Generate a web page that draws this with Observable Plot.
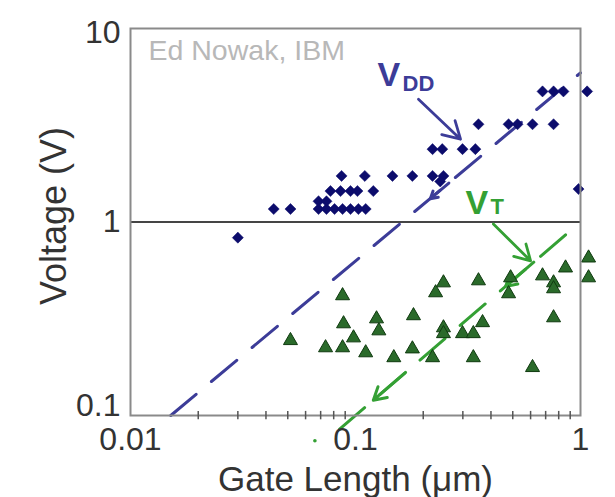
<!DOCTYPE html>
<html><head><meta charset="utf-8">
<script src="https://cdn.jsdelivr.net/npm/d3@7"></script>
<script src="https://cdn.jsdelivr.net/npm/@observablehq/plot@0.6"></script>
<style>body{margin:0;background:#fff}</style>
</head><body><div id="chart"></div>
<script>
// V_DD (supply voltage) points: gate length (µm), voltage (V)
const vddGateLength = [0.030,
  0.0433, 0.0514, 0.0685, 0.0743, 0.0807, 0.0876, 0.095, 0.103, 0.111,
  0.0685, 0.0743,
  0.0774, 0.0858, 0.095, 0.102, 0.120,
  0.0867, 0.110, 0.146, 0.179, 0.220, 0.246, 0.238,
  0.220, 0.243, 0.299, 0.341,
  0.352, 0.479, 0.525, 0.612, 0.759,
  0.678, 0.759, 0.84, 1.07,
  0.98];
const vddVoltage = [0.83,
  1.167, 1.167, 1.167, 1.167, 1.167, 1.167, 1.167, 1.167, 1.167,
  1.28, 1.28,
  1.445, 1.445, 1.445, 1.445, 1.445,
  1.73, 1.73, 1.73, 1.73, 1.73, 1.73, 1.62,
  2.38, 2.38, 2.38, 2.38,
  3.2, 3.2, 3.2, 3.2, 3.2,
  4.73, 4.73, 4.73, 4.73,
  1.48];
// V_T (threshold voltage) points
const vtGateLength = [0.0876, 0.0514, 0.0885, 0.098, 0.0736, 0.0876, 0.111, 0.124, 0.127, 0.181,
  0.148, 0.179, 0.246, 0.227, 0.352, 0.489, 0.479, 0.678, 0.759, 0.759,
  0.858, 0.759, 0.246, 0.246, 0.299, 0.334, 0.367, 0.220, 0.334, 0.612,
  1.086, 1.086];
const vtVoltage = [0.416, 0.244, 0.298, 0.252, 0.224, 0.224, 0.211, 0.316, 0.274, 0.328,
  0.199, 0.221, 0.485, 0.431, 0.497, 0.515, 0.426, 0.527, 0.485, 0.452,
  0.579, 0.320, 0.284, 0.265, 0.265, 0.265, 0.302, 0.199, 0.199, 0.177,
  0.652, 0.515];
// Scaling trend lines
const vddTrendL = [0.0151, 1.0];
const vddTrendV = [0.1, 5.9];
const vtTrendL = [0.085, 1.0];
const vtTrendV = [0.085, 1.0];
const vtTrendDotL = [0.066];
const vtTrendDotV = [0.074];
// Arrowheads along the trend lines (pointing to smaller devices)
const trendArrowSeries = ["vdd", "vt", "vt"];
const trendArrowL1 = [0.26, 0.62, 0.167];
const trendArrowV1 = [1.59, 0.62, 0.167];
const trendArrowL2 = [0.215, 0.465, 0.12];
const trendArrowV2 = [1.32, 0.465, 0.12];
// Label callout arrows
const calloutSeries = ["vdd", "vt"];
const calloutL1 = [0.1905, 0.41];
const calloutV1 = [4.31, 0.976];
const calloutL2 = [0.293, 0.60];
const calloutV2 = [2.68, 0.63];
// Labels
const labelMain = ["V", "V"];
const labelSub = ["DD", "T"];
const labelSeries = ["vdd", "vt"];
const labelMainL = [0.1253, 0.308];
const labelMainV = [5.02, 1.10];
const labelSubL = [0.1618, 0.398];
const labelSubV = [4.73, 1.10];
// Axis ticks
const xTicks = [0.01, 0.1, 1];
const yTicks = [0.1, 1, 10];
const xMinorTicks = [0.02, 0.03, 0.04, 0.05, 0.06, 0.07, 0.08, 0.09, 0.2, 0.3, 0.4, 0.5, 0.6, 0.7, 0.8, 0.9];
const referenceLine = [1];

const colors = {vdd: "#3c3c98", vt: "#34a034"};
const vdd = vddGateLength.map((x, i) => ({x, y: vddVoltage[i]}));
const vt = vtGateLength.map((x, i) => ({x, y: vtVoltage[i]}));
const vddTrend = vddTrendL.map((x, i) => ({x, y: vddTrendV[i]}));
const vtTrend = vtTrendL.map((x, i) => ({x, y: vtTrendV[i]}));
const vtTrendDot = vtTrendDotL.map((x, i) => ({x, y: vtTrendDotV[i]}));
const trendArrows = trendArrowSeries.map((s, i) => ({s, x1: trendArrowL1[i], y1: trendArrowV1[i], x2: trendArrowL2[i], y2: trendArrowV2[i]}));
const callouts = calloutSeries.map((s, i) => ({s, x1: calloutL1[i], y1: calloutV1[i], x2: calloutL2[i], y2: calloutV2[i]}));
const labels = labelSeries.map((s, i) => ({s, main: labelMain[i], sub: labelSub[i], mx: labelMainL[i], my: labelMainV[i], sx: labelSubL[i], sy: labelSubV[i]}));

const font = "Liberation Sans, Arial, Helvetica, sans-serif";
const tickFont = 32;

const chart = Plot.plot({
  width: 615,
  height: 497,
  marginLeft: 130,
  marginRight: 35,
  marginTop: 28,
  marginBottom: 82,
  x: {type: "log", domain: [0.01, 1]},
  y: {type: "log", domain: [0.1, 10]},
  style: {fontFamily: font, background: "#fff", color: "#333", overflow: "visible"},
  marks: [
    Plot.text(["Ed Nowak, IBM"], {frameAnchor: "top-left", dx: 18, dy: 11, textAnchor: "start", lineAnchor: "top", fontSize: 28.5, fill: "#b8b8b8"}),
    Plot.ruleY(referenceLine, {stroke: "#454545", strokeWidth: 2}),
    Plot.line(vddTrend, {x: "x", y: "y", stroke: colors.vdd, strokeWidth: 3, strokeDasharray: "33,20"}),
    Plot.line(vtTrend, {x: "x", y: "y", stroke: colors.vt, strokeWidth: 3, strokeDasharray: "33,20"}),
    Plot.dot(vtTrendDot, {x: "x", y: "y", r: 1.8, fill: colors.vt}),
    Plot.arrow(trendArrows, {x1: "x1", y1: "y1", x2: "x2", y2: "y2", stroke: d => colors[d.s], strokeWidth: 3, headLength: 13}),
    Plot.dot(vt, {x: "x", y: "y", symbol: "triangle", r: 5.2, fill: "#2a6a2a", stroke: "#0f3a0f", strokeWidth: 1}),
    Plot.dot(vdd, {x: "x", y: "y", symbol: "diamond2", r: 5, fill: "#0c0c6c", stroke: "#0c0c6c", strokeWidth: 0.5}),
    Plot.arrow(callouts, {x1: "x1", y1: "y1", x2: "x2", y2: "y2", stroke: d => colors[d.s], strokeWidth: 2.8, headLength: 13}),
    Plot.text(labels, {x: "mx", y: "my", text: "main", textAnchor: "start", lineAnchor: "bottom", fontSize: 34, fontWeight: "bold", fill: d => colors[d.s]}),
    Plot.text(labels, {x: "sx", y: "sy", text: "sub", textAnchor: "start", lineAnchor: "bottom", fontSize: 22, fontWeight: "bold", fill: d => colors[d.s]}),
    Plot.frame({stroke: "#8a8a8a", strokeWidth: 2}),
    Plot.ruleX(xMinorTicks, {y1: 0.095, y2: 0.105, stroke: "#555", strokeWidth: 1.5}),
    Plot.axisX(xTicks, {tickSize: 0, tickPadding: 12, fontSize: tickFont, tickFormat: d => String(d), label: null, fill: "#333"}),
    Plot.axisY(yTicks.filter(d => d === 1), {tickSize: 0, tickPadding: 10, fontSize: tickFont, tickFormat: d => String(d), label: null, fill: "#333"}),
    Plot.axisY(yTicks.filter(d => d === 10), {tickSize: 0, tickPadding: 10, dy: 4, fontSize: tickFont, tickFormat: d => String(d), label: null, fill: "#333"}),
    Plot.axisY(yTicks.filter(d => d === 0.1), {tickSize: 0, tickPadding: 10, dy: -10, fontSize: tickFont, tickFormat: d => String(d), label: null, fill: "#333"}),
    Plot.text(["Gate Length (\u03bcm)"], {frameAnchor: "bottom", dy: 64, lineAnchor: "middle", textAnchor: "middle", fontSize: 35, fill: "#333"}),
    Plot.text(["Voltage (V)"], {frameAnchor: "left", dx: -76, dy: -6, rotate: -90, lineAnchor: "middle", textAnchor: "middle", fontSize: 36, fill: "#333"})
  ]
});
document.getElementById("chart").appendChild(chart);
</script>
</body></html>
